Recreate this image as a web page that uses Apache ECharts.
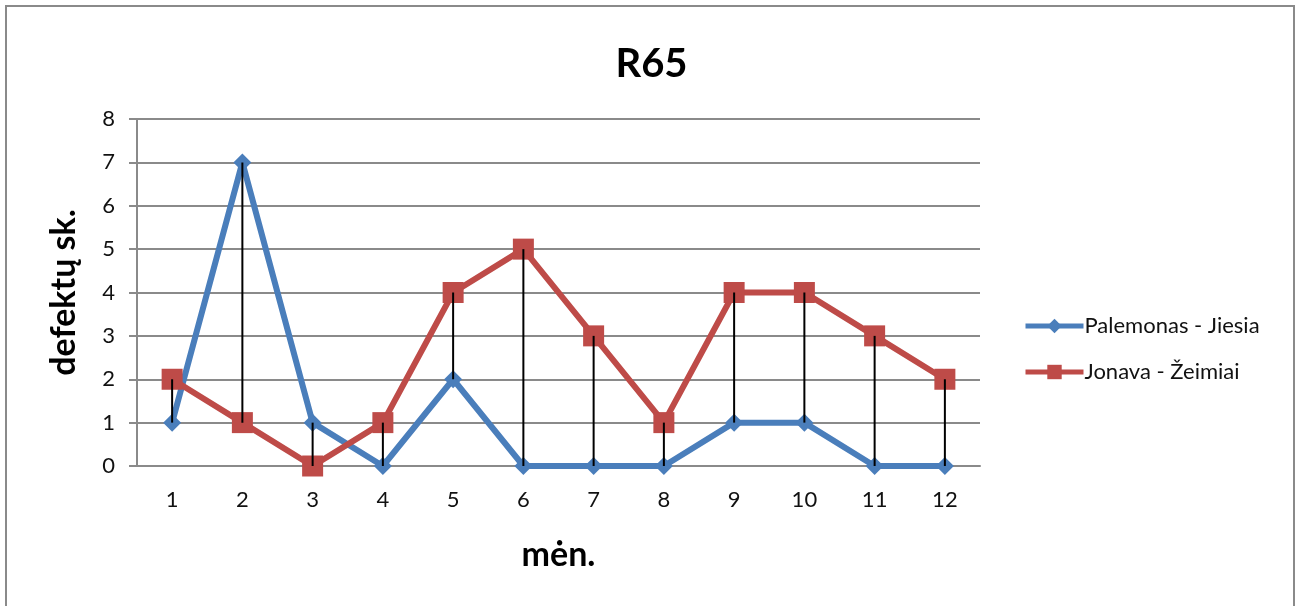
<!DOCTYPE html>
<html>
<head>
<meta charset="utf-8">
<script src="https://cdn.jsdelivr.net/npm/echarts@6/dist/echarts.min.js"></script>
<style>
  html, body { margin: 0; padding: 0; background: #fff; }
  #frame { position: absolute; left: 5px; top: 5px; width: 1290px; height: 610px;
           border: 2px solid #8a8a8a; box-sizing: border-box; }
  #chart { position: absolute; left: 0; top: 0; width: 1303px; height: 606px; }
</style>
</head>
<body>
<div id="frame"></div>
<div id="chart"></div>
<script>
// Months and defect counts per route
const months = ['1', '2', '3', '4', '5', '6', '7', '8', '9', '10', '11', '12'];
const palemonasJiesia = [1, 7, 1, 0, 2, 0, 0, 0, 1, 1, 0, 0];
const jonavaZeimiai = [2, 1, 0, 1, 4, 5, 3, 1, 4, 4, 3, 2];
const yTicks = [0, 1, 2, 3, 4, 5, 6, 7, 8];

const FONT = 'Lato, "Open Sans", sans-serif';
const BLUE = '#4a7ebb';
const RED = '#be4b48';

// High-low connector between the two routes at each month
const hiLow = months.map((m, i) => [i,
  Math.min(palemonasJiesia[i], jonavaZeimiai[i]),
  Math.max(palemonasJiesia[i], jonavaZeimiai[i])]);

const chart = echarts.init(document.getElementById('chart'), null, { renderer: 'canvas' });
chart.setOption({
  animation: false,
  backgroundColor: 'transparent',
  title: {
    text: 'R65', left: 'center', top: 39,
    textStyle: { fontFamily: FONT, fontWeight: 'bold', fontSize: 40, color: '#000' }
  },
  grid: { left: 137, right: 323, top: 119, bottom: 140 },
  legend: {
    orient: 'vertical', left: 1018, top: 310, itemGap: 24,
    itemWidth: 58, itemHeight: 18,
    lineStyle: { width: 5 },
    textStyle: { fontFamily: FONT, fontSize: 22, color: '#111', padding: [0, 0, 0, -4] },
    data: [
      { name: 'Palemonas - Jiesia' },
      { name: 'Jonava - Žeimiai' }
    ]
  },
  xAxis: {
    type: 'category', data: months, boundaryGap: true,
    name: 'mėn.', nameLocation: 'middle', nameGap: 72,
    nameTextStyle: { fontFamily: FONT, fontWeight: 'bold', fontSize: 34, color: '#000' },
    axisLine: { show: true, lineStyle: { color: '#8a8a8a', width: 2 } },
    axisTick: { show: false },
    axisLabel: { fontFamily: FONT, fontSize: 22, color: '#111', margin: 23 },
    splitLine: { show: false }
  },
  yAxis: {
    type: 'value', min: yTicks[0], max: yTicks[yTicks.length - 1], interval: 1,
    name: 'defektų sk.', nameLocation: 'middle', nameGap: 56, nameRotate: 90,
    nameTextStyle: { fontFamily: FONT, fontWeight: 'bold', fontSize: 34, color: '#000' },
    axisLine: { show: true, lineStyle: { color: '#8a8a8a', width: 2 } },
    axisTick: { show: true, length: 8, lineStyle: { color: '#8a8a8a', width: 2 } },
    axisLabel: { fontFamily: FONT, fontSize: 22, color: '#111', margin: 22 },
    splitLine: { show: true, lineStyle: { color: '#8a8a8a', width: 2 } }
  },
  series: [
    {
      name: 'Palemonas - Jiesia', type: 'line', data: palemonasJiesia,
      symbol: 'diamond', symbolSize: 18,
      lineStyle: { color: BLUE, width: 6 },
      itemStyle: { color: BLUE },
      z: 3
    },
    {
      name: 'Jonava - Žeimiai', type: 'line', data: jonavaZeimiai,
      symbol: 'rect', symbolSize: 21,
      lineStyle: { color: RED, width: 6 },
      itemStyle: { color: RED },
      z: 4
    },
    {
      name: 'hiLow', type: 'custom', data: hiLow, z: 10, silent: true,
      encode: { x: 0, y: [1, 2] },
      renderItem: function (params, api) {
        const a = api.coord([api.value(0), api.value(1)]);
        const b = api.coord([api.value(0), api.value(2)]);
        return {
          type: 'line',
          shape: { x1: a[0], y1: a[1], x2: b[0], y2: b[1] },
          style: { stroke: '#000', lineWidth: 2 }
        };
      }
    }
  ]
});
</script>
</body>
</html>
